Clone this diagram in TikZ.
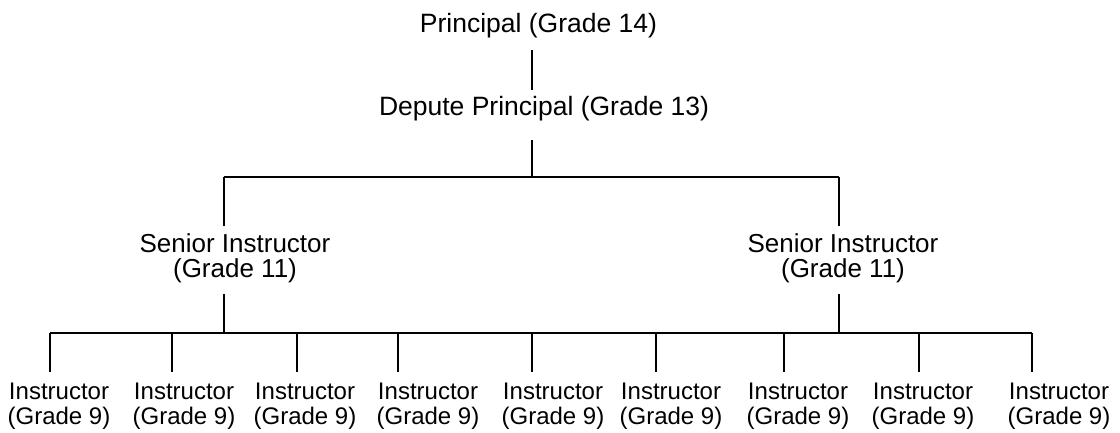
\documentclass[tikz,border=0pt]{standalone}
\usepackage{fontspec}
\setmainfont{Liberation Sans}
\begin{document}
\begin{tikzpicture}[x=1pt,y=-1pt,
  title/.style={anchor=base,inner sep=0pt,font=\fontsize{26.5}{25}\selectfont},
  senior/.style={anchor=north,inner sep=0pt,align=center,font=\fontsize{26}{25}\selectfont},
  staff/.style={anchor=north,inner sep=0pt,align=center,font=\fontsize{24}{25}\selectfont},
  link/.style={line width=1.5pt},
  bar/.style={line width=1.9pt}]
\useasboundingbox (0,0) rectangle (1120,432);

% top of the hierarchy
\node[title] (prin) at (538.5,32) {Principal (Grade 14)};
\node[title] (dep) at (544,115) {Depute Principal (Grade 13)};

% senior instructors
\node[senior] (s1) at (235,233) {Senior Instructor\\(Grade 11)};
\node[senior] (s2) at (843,233) {Senior Instructor\\(Grade 11)};

% instructors: text centre / drop-line position
\foreach \n/\tx/\lx in {1/59/50, 2/184/172, 3/305/297, 4/428/398, 5/553/532,
                        6/671/656, 7/798/784, 8/923/919, 9/1059/1032} {
  \node[staff] (i\n) at (\tx,383) {Instructor\\(Grade 9)};
  \coordinate (iu\n) at (\lx,333);
  \coordinate (id\n) at (\lx,372);
  \draw[link] (iu\n) -- (id\n);
}

% trunk and junctions
\coordinate (pB) at (532,50);
\coordinate (dT) at (532,90);
\coordinate (dB) at (532,140);
\coordinate (j1) at (532,177);
\coordinate (b1L) at (224,177);
\coordinate (b1R) at (839,177);
\coordinate (s1T) at (224,226);
\coordinate (s2T) at (839,226);
\coordinate (s1B) at (224,294);
\coordinate (s2B) at (839,294);
\coordinate (s1J) at (224,333);
\coordinate (s2J) at (839,333);

\draw[link] (pB) -- (dT);
\draw[link] (dB) -- (j1);
\draw[bar] (b1L) -- (b1R);
\draw[link] (b1L) -- (s1T);
\draw[link] (b1R) -- (s2T);
\draw[link] (s1B) -- (s1J);
\draw[link] (s2B) -- (s2J);
\draw[bar] (iu1) -- (iu9);
\end{tikzpicture}
\end{document}
